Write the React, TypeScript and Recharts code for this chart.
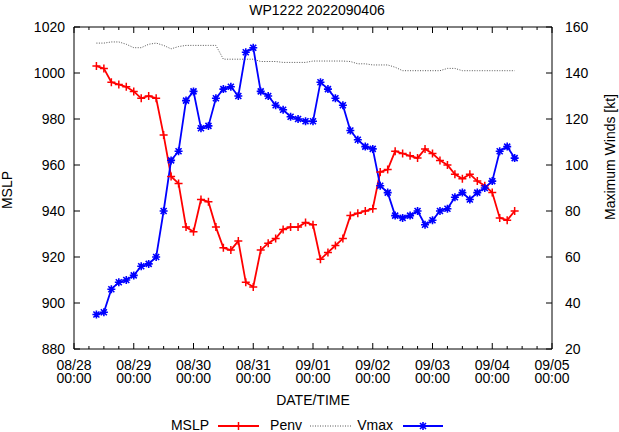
import React from 'react';
import { ComposedChart, Line, XAxis, YAxis } from 'recharts';

const FONT = '"Liberation Sans", Arial, Helvetica, sans-serif';

// hours after 08/28 00:00 (3-hourly analyses)
const hours = [
  9, 12, 15, 18, 21, 24, 27, 30, 33, 36, 39, 42, 45, 48, 51, 54, 57, 60, 63,
  66, 69, 72, 75, 78, 81, 84, 87, 90, 93, 96, 99, 102, 105, 108, 111, 114,
  117, 120, 123, 126, 129, 132, 135, 138, 141, 144, 147, 150, 153, 156, 159,
  162, 165, 168, 171, 174, 177,
];

const mslp = [
  1003, 1002, 996, 995, 994, 992, 989, 990, 989, 973,
  955, 952, 933, 931, 945, 944, 933, 924, 923, 927,
  909, 907, 923, 926, 928, 932, 933, 933, 935, 934,
  919, 922, 925, 928, 938, 939, 940, 941, 957, 958,
  966, 965, 964, 963, 967, 965, 962, 960, 956, 954,
  956, 953, 951, 948, 937, 936, 940,
];

const penv = [
  1013, 1013, 1013.5, 1013.5, 1012.5, 1011, 1011, 1012.5, 1013, 1012,
  1010.5, 1011.5, 1012, 1012, 1012, 1012, 1012, 1006, 1006, 1006,
  1006, 1006, 1005, 1005, 1005, 1004.6, 1004.6, 1004.6, 1004.6, 1005.2,
  1005.2, 1005.2, 1005.2, 1005.2, 1005, 1004, 1004, 1003.5, 1003.5, 1003.5,
  1002.5, 1001, 1001, 1001, 1001, 1001, 1001, 1002, 1002, 1001,
  1001, 1001, 1001, 1001, 1001, 1001, 1001,
];

const vmax = [
  35, 36, 46, 49, 50, 52, 56, 57, 60, 80,
  102, 106, 128, 132, 116, 117, 129, 133, 134, 130,
  149, 151, 132, 130, 126, 124, 121, 120, 119, 119,
  136, 133, 129, 126, 115, 111, 108, 107, 91, 88,
  78, 77, 78, 80, 74, 76, 80, 81, 86, 88,
  85, 88, 90, 93, 106, 108, 103,
];

const xTicks = [
  0, 6, 12, 18, 24, 30, 36, 42, 48, 54, 60, 66, 72, 78, 84, 90, 96,
  102, 108, 114, 120, 126, 132, 138, 144, 150, 156, 162, 168, 174, 180, 186, 192,
];
const dayLabels = ['08/28', '08/29', '08/30', '08/31', '09/01', '09/02', '09/03', '09/04', '09/05'];
const mslpTicks = [880, 900, 920, 940, 960, 980, 1000, 1020];
const windTicks = [20, 40, 60, 80, 100, 120, 140, 160];

const data = hours.map((h, i) => ({ h, mslp: mslp[i], penv: penv[i], vmax: vmax[i] }));

const BottomTick = ({ x, y, payload }: any) => {
  const major = payload.value % 24 === 0;
  return (
    <g>
      <line x1={x} y1={y} x2={x} y2={y - (major ? 6 : 3)} stroke="#000" />
      {major && (
        <text textAnchor="middle" fontSize={14} fontFamily={FONT} fill="#000">
          <tspan x={x} y={y + 21}>{dayLabels[payload.value / 24]}</tspan>
          <tspan x={x} y={y + 34}>00:00</tspan>
        </text>
      )}
    </g>
  );
};

const TopTick = ({ x, y, payload }: any) => {
  const major = payload.value % 24 === 0;
  return <line x1={x} y1={y} x2={x} y2={y + (major ? 6 : 3)} stroke="#000" />;
};

const LeftTick = ({ x, y, payload }: any) => (
  <g>
    <line x1={x} y1={y} x2={x + 6} y2={y} stroke="#000" />
    <text x={x - 9} y={y + 5} textAnchor="end" fontSize={14} fontFamily={FONT} fill="#000">
      {payload.value}
    </text>
  </g>
);

const RightTick = ({ x, y, payload }: any) => (
  <g>
    <line x1={x} y1={y} x2={x - 6} y2={y} stroke="#000" />
    <text x={x + 13} y={y + 5} textAnchor="start" fontSize={14} fontFamily={FONT} fill="#000">
      {payload.value}
    </text>
  </g>
);

const PlusDot = (p: any) => (
  <path
    key={`plus-${p.index}`}
    d={`M${p.cx - 4},${p.cy}h8M${p.cx},${p.cy - 4}v8`}
    stroke="#ff0000"
    strokeWidth={1.5}
    fill="none"
  />
);

const StarDot = (p: any) => (
  <path
    key={`star-${p.index}`}
    d={`M${p.cx - 4},${p.cy}h8M${p.cx},${p.cy - 4}v8M${p.cx - 3},${p.cy - 3}l6,6M${p.cx - 3},${p.cy + 3}l6,-6`}
    stroke="#0000ff"
    strokeWidth={1.6}
    fill="none"
  />
);

export default function App() {
  return (
    <div style={{ position: 'absolute', left: 0, top: 0, width: 619, height: 432, background: '#fff' }}>
      <ComposedChart width={619} height={432} data={data} margin={{ top: 26, right: 0, bottom: 0, left: 0 }}>
        <XAxis
          dataKey="h"
          type="number"
          domain={[0, 192]}
          ticks={xTicks}
          interval={0}
          height={83}
          tickSize={0}
          tickMargin={0}
          tickLine={false}
          axisLine={{ stroke: '#000' }}
          tick={<BottomTick />}
        />
        <XAxis
          xAxisId="top"
          orientation="top"
          dataKey="h"
          type="number"
          domain={[0, 192]}
          ticks={xTicks}
          interval={0}
          height={1}
          tickSize={0}
          tickMargin={0}
          tickLine={false}
          axisLine={{ stroke: '#000' }}
          tick={<TopTick />}
        />
        <YAxis
          yAxisId="left"
          domain={[880, 1020]}
          ticks={mslpTicks}
          interval={0}
          width={74}
          tickSize={0}
          tickMargin={0}
          tickLine={false}
          axisLine={{ stroke: '#000' }}
          tick={<LeftTick />}
        />
        <YAxis
          yAxisId="right"
          orientation="right"
          domain={[20, 160]}
          ticks={windTicks}
          interval={0}
          width={67}
          tickSize={0}
          tickMargin={0}
          tickLine={false}
          axisLine={{ stroke: '#000' }}
          tick={<RightTick />}
        />
        <Line
          yAxisId="left"
          dataKey="penv"
          type="linear"
          stroke="#555"
          strokeWidth={1}
          strokeDasharray="1 1.5"
          dot={false}
          activeDot={false}
          isAnimationActive={false}
        />
        <Line
          yAxisId="left"
          dataKey="mslp"
          type="linear"
          stroke="#ff0000"
          strokeWidth={1.8}
          dot={PlusDot}
          activeDot={false}
          isAnimationActive={false}
        />
        <Line
          yAxisId="right"
          dataKey="vmax"
          type="linear"
          stroke="#0000ff"
          strokeWidth={1.8}
          dot={StarDot}
          activeDot={false}
          isAnimationActive={false}
        />
      </ComposedChart>
      <svg
        width={619}
        height={432}
        style={{ position: 'absolute', left: 0, top: 0, pointerEvents: 'none' }}
        fontFamily={FONT}
        fontSize={14}
        fill="#000"
      >
        <text x={317} y={15} textAnchor="middle">WP1222 2022090406</text>
        <text transform="translate(12,190) rotate(-90)" textAnchor="middle">MSLP</text>
        <text transform="translate(615,157) rotate(-90)" textAnchor="middle">Maximum Winds [kt]</text>
        <text x={313} y={405} textAnchor="middle">DATE/TIME</text>

        <text x={209} y={430} textAnchor="end">MSLP</text>
        <line x1={218} y1={426} x2={259} y2={426} stroke="#ff0000" strokeWidth={1.8} />
        <path d="M234.5,426h8M238.5,422v8" stroke="#ff0000" strokeWidth={1.5} />
        <text x={302} y={430} textAnchor="end">Penv</text>
        <line x1={310} y1={426} x2={351} y2={426} stroke="#555" strokeWidth={1} strokeDasharray="1 1.5" />
        <text x={393} y={430} textAnchor="end">Vmax</text>
        <line x1={403} y1={426} x2={443} y2={426} stroke="#0000ff" strokeWidth={1.8} />
        <path d="M419,426h8M423,422v8M420,423l6,6M420,429l6,-6" stroke="#0000ff" strokeWidth={1.6} />
      </svg>
    </div>
  );
}
